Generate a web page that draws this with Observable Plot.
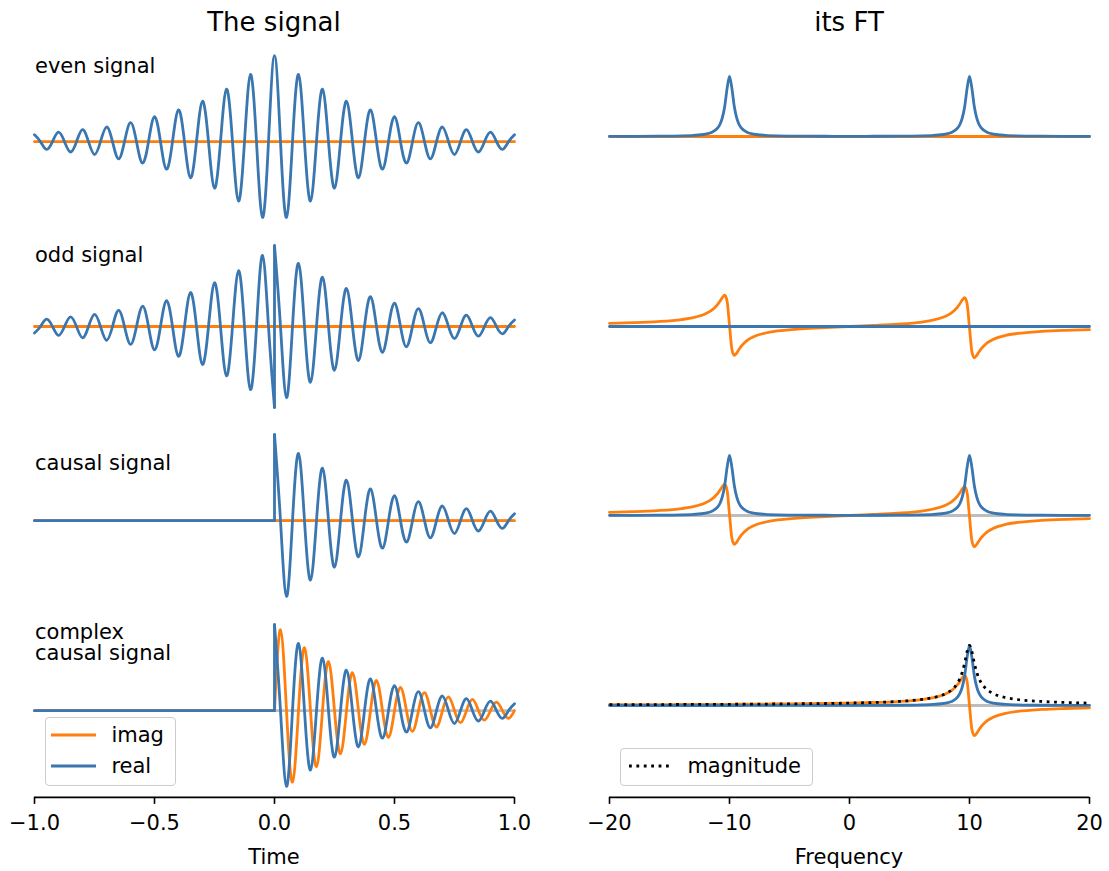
<!DOCTYPE html>
<html>
<head>
<meta charset="utf-8">
<script src="https://cdn.jsdelivr.net/npm/d3@7"></script>
<script src="https://cdn.jsdelivr.net/npm/@observablehq/plot@0.6"></script>
<style>
  html, body { margin: 0; padding: 0; background: #fff; overflow: hidden; }
  #fig { position: relative; width: 1109px; height: 871px; overflow: hidden;
         font-family: "DejaVu Sans", sans-serif; color: #000; background: #fff; }
  .t { position: absolute; white-space: pre; line-height: 1; font-size: 21px; }
  .legend { position: absolute; box-sizing: border-box; border: 1.6px solid #cccccc;
            border-radius: 4px; background: rgba(255,255,255,0.8); }
</style>
</head>
<body>
<div id="fig"></div>
<script>
// ---------------- data ----------------
const timeTicks = [-1, -0.5, 0, 0.5, 1];
const freqTicks = [-20, -10, 0, 10, 20];
const timeSpan = [-1, 1];
const freqSpan = [-20, 20];
const zeroPair = [0, 0];

// time samples (every quarter period of the 10 Hz oscillation)
const tNeg = [-1,-0.975,-0.95,-0.925,-0.9,-0.875,-0.85,-0.825,-0.8,-0.775,-0.75,-0.725,-0.7,-0.675,-0.65,-0.625,-0.6,-0.575,-0.55,-0.525,-0.5,-0.475,-0.45,-0.425,-0.4,-0.375,-0.35,-0.325,-0.3,-0.275,-0.25,-0.225,-0.2,-0.175,-0.15,-0.125,-0.1,-0.075,-0.05,-0.025,0];
const tPos = [0,0.025,0.05,0.075,0.1,0.125,0.15,0.175,0.2,0.225,0.25,0.275,0.3,0.325,0.35,0.375,0.4,0.425,0.45,0.475,0.5,0.525,0.55,0.575,0.6,0.625,0.65,0.675,0.7,0.725,0.75,0.775,0.8,0.825,0.85,0.875,0.9,0.925,0.95,0.975,1];

// even signal (real part); imag part is zero
const evenNeg = [0.08,0,-0.09,0,0.11,0,-0.12,0,0.14,0,-0.15,0,0.17,0,-0.20,0,0.22,0,-0.25,0,0.29,0,-0.32,0,0.37,0,-0.42,0,0.47,0,-0.54,0,0.61,0,-0.69,0,0.78,0,-0.88,0,1.00];
const evenPos = [1.00,0,-0.88,0,0.78,0,-0.69,0,0.61,0,-0.54,0,0.47,0,-0.42,0,0.37,0,-0.32,0,0.29,0,-0.25,0,0.22,0,-0.20,0,0.17,0,-0.15,0,0.14,0,-0.12,0,0.11,0,-0.09,0,0.08];
// odd signal (real part, jumps at t = 0)
const oddNeg = [-0.08,0,0.09,0,-0.11,0,0.12,0,-0.14,0,0.15,0,-0.17,0,0.20,0,-0.22,0,0.25,0,-0.29,0,0.32,0,-0.37,0,0.42,0,-0.47,0,0.54,0,-0.61,0,0.69,0,-0.78,0,0.88,0,-1.00];
const oddPos = [1.00,0,-0.88,0,0.78,0,-0.69,0,0.61,0,-0.54,0,0.47,0,-0.42,0,0.37,0,-0.32,0,0.29,0,-0.25,0,0.22,0,-0.20,0,0.17,0,-0.15,0,0.14,0,-0.12,0,0.11,0,-0.09,0,0.08];
// causal signal: zero before t = 0
const causalOffT = [-1, 0];
const causalOffV = [0, 0];
const causalRealPos = [1.00,0,-0.88,0,0.78,0,-0.69,0,0.61,0,-0.54,0,0.47,0,-0.42,0,0.37,0,-0.32,0,0.29,0,-0.25,0,0.22,0,-0.20,0,0.17,0,-0.15,0,0.14,0,-0.12,0,0.11,0,-0.09,0,0.08];
// complex causal signal
const complexRealPos = causalRealPos;
const complexImagPos = [0,0.94,0,-0.83,0,0.73,0,-0.65,0,0.57,0,-0.50,0,0.44,0,-0.39,0,0.35,0,-0.31,0,0.27,0,-0.24,0,0.21,0,-0.19,0,0.16,0,-0.14,0,0.13,0,-0.11,0,0.10,0,-0.09,0];

// frequency samples
const freq = [-20,-18,-16,-14,-13,-12,-11.5,-11,-10.8,-10.6,-10.4,-10.2,-10,-9.8,-9.6,-9.4,-9.2,-9,-8.5,-8,-7,-6,-4,-2,0,2,4,6,7,8,8.5,9,9.2,9.4,9.6,9.8,10,10.2,10.4,10.6,10.8,11,11.5,12,13,14,16,18,20];
const evenFTReal = [0.002,0.003,0.005,0.010,0.018,0.039,0.067,0.138,0.200,0.308,0.500,0.800,1.000,0.800,0.500,0.308,0.200,0.138,0.067,0.039,0.018,0.010,0.005,0.004,0.003,0.004,0.005,0.010,0.018,0.039,0.067,0.138,0.200,0.308,0.500,0.800,1.000,0.800,0.500,0.308,0.200,0.138,0.067,0.039,0.018,0.010,0.005,0.003,0.002];
const oddFTImag = [0.053,0.064,0.082,0.116,0.148,0.211,0.268,0.364,0.419,0.481,0.520,0.420,0.020,-0.380,-0.480,-0.441,-0.379,-0.324,-0.227,-0.170,-0.108,-0.074,-0.038,-0.017,0,0.017,0.038,0.074,0.108,0.170,0.227,0.324,0.379,0.441,0.480,0.380,-0.020,-0.420,-0.520,-0.481,-0.419,-0.364,-0.268,-0.211,-0.148,-0.116,-0.082,-0.064,-0.053];
const causalFTReal = evenFTReal;
const causalFTImag = oddFTImag;
const complexFTReal = [0,0,0,0,0,0,0,0,0,0,0,0,0,0,0,0,0,0,0.001,0.001,0.001,0.001,0.001,0.001,0.002,0.003,0.004,0.010,0.018,0.039,0.066,0.138,0.200,0.308,0.500,0.800,1.000,0.800,0.500,0.308,0.200,0.138,0.066,0.039,0.018,0.010,0.004,0.003,0.002];
const complexFTImag = [0.013,0.014,0.015,0.017,0.017,0.018,0.019,0.019,0.019,0.019,0.020,0.020,0.020,0.020,0.020,0.021,0.021,0.021,0.022,0.022,0.024,0.025,0.029,0.033,0.040,0.050,0.066,0.099,0.131,0.192,0.249,0.345,0.400,0.462,0.500,0.400,0,-0.400,-0.500,-0.462,-0.400,-0.345,-0.249,-0.192,-0.131,-0.099,-0.066,-0.050,-0.040];
const complexFTMag = [0.013,0.014,0.015,0.017,0.017,0.018,0.019,0.019,0.019,0.019,0.020,0.020,0.020,0.020,0.020,0.021,0.021,0.021,0.022,0.022,0.024,0.025,0.029,0.033,0.040,0.050,0.067,0.100,0.132,0.196,0.258,0.371,0.447,0.555,0.707,0.894,1.000,0.894,0.707,0.555,0.447,0.371,0.258,0.196,0.132,0.100,0.067,0.050,0.040];

const rowLabels = ["even signal", "odd signal", "causal signal", "complex\ncausal signal"];
const titles = ["The signal", "its FT"];
const axisLabels = ["Time", "Frequency"];
const legendLeft = ["imag", "real"];
const legendRight = ["magnitude"];

// ---------------- styling / layout ----------------
const C_REAL = "#3a76af", C_IMAG = "#ff7f0e", C_ZERO = "#bdbdbd", LW = 2.8;
const COL_X0 = [34, 609], PANEL_W = 480, PANEL_H = 178;
const ROW_TOPS = [47, 236.7, 426.4, 616.1];
const AXIS_Y = 797;
const Y_TIME = [-0.974, 1.094], Y_TIME_ODD = [-1.1, 1.1], Y_FREQ = [-1.48, 1.48];
const FONT = "'DejaVu Sans', sans-serif";
const FS = 21;

const fig = document.getElementById("fig");
const pts = (xs, ys) => xs.map((x, i) => ({x, y: ys[i]}));
const joinHalves = (tn, vn, tp, vp) => pts(tn, vn).concat(pts(tp, vp).slice(1));

function panel(col, row, yDomain, marks) {
  const bottom = row === 3;
  const ML = 34, MR = 20, MT = 12;
  const MB = bottom ? 70 : 12;
  const plotH = bottom ? (AXIS_Y - ROW_TOPS[3]) : PANEL_H;
  const inset = plotH - PANEL_H;
  const xDomain = col === 0 ? timeSpan : freqSpan;
  const all = [...marks];
  if (bottom) {
    all.push(Plot.ruleY([yDomain[0]], {stroke: "#000", strokeWidth: 1.6, dy: inset}));
    all.push(Plot.axisX({
      ticks: col === 0 ? timeTicks : freqTicks,
      tickFormat: col === 0 ? d3.format(".1f") : d3.format("d"),
      tickSize: 7, tickPadding: 11, fontSize: FS, label: null,
      stroke: "#000", strokeWidth: 1.6
    }));
  }
  const svg = Plot.plot({
    width: PANEL_W + ML + MR, height: plotH + MT + MB,
    marginLeft: ML, marginRight: MR, marginTop: MT, marginBottom: MB,
    insetBottom: inset,
    x: bottom ? {domain: xDomain} : {domain: xDomain, axis: null},
    y: {domain: yDomain, axis: null},
    style: `font-family: ${FONT}; font-size: ${FS}px; background: transparent; overflow: visible; color: #000;`,
    marks: all
  });
  svg.style.position = "absolute";
  svg.style.left = (COL_X0[col] - ML) + "px";
  svg.style.top = (ROW_TOPS[row] - MT) + "px";
  svg.style.maxWidth = "none";
  fig.appendChild(svg);
}

const L = (data, stroke, extra = {}) => Plot.line(data, {x: "x", y: "y", stroke, strokeWidth: LW, ...extra});
const zeroRule = () => Plot.ruleY([0], {stroke: C_ZERO, strokeWidth: LW});

// ---- left column: signals ----
panel(0, 0, Y_TIME, [
  L(pts(timeSpan, zeroPair), C_IMAG),
  L(joinHalves(tNeg, evenNeg, tPos, evenPos), C_REAL, {curve: "natural"})
]);
panel(0, 1, Y_TIME_ODD, [
  L(pts(timeSpan, zeroPair), C_IMAG),
  L(pts(tNeg, oddNeg), C_REAL, {curve: "natural"}),
  L(pts([0, 0], [oddNeg[oddNeg.length - 1], oddPos[0]]), C_REAL),
  L(pts(tPos, oddPos), C_REAL, {curve: "natural"})
]);
panel(0, 2, Y_TIME, [
  zeroRule(),
  L(pts(timeSpan, zeroPair), C_IMAG),
  L(pts([...causalOffT, 0], [...causalOffV, causalRealPos[0]]), C_REAL),
  L(pts(tPos, causalRealPos), C_REAL, {curve: "natural"})
]);
panel(0, 3, Y_TIME, [
  zeroRule(),
  L(pts(causalOffT, causalOffV), C_IMAG),
  L(pts(tPos, complexImagPos), C_IMAG, {curve: "natural"}),
  L(pts([...causalOffT, 0], [...causalOffV, complexRealPos[0]]), C_REAL),
  L(pts(tPos, complexRealPos), C_REAL, {curve: "natural"})
]);

// ---- right column: Fourier transforms ----
panel(1, 0, Y_FREQ, [
  L(pts(freqSpan, zeroPair), C_IMAG),
  L(pts(freq, evenFTReal), C_REAL, {curve: "monotone-x"})
]);
panel(1, 1, Y_FREQ, [
  L(pts(freq, oddFTImag), C_IMAG, {curve: "monotone-x"}),
  L(pts(freqSpan, zeroPair), C_REAL)
]);
panel(1, 2, Y_FREQ, [
  zeroRule(),
  L(pts(freq, causalFTImag), C_IMAG, {curve: "monotone-x"}),
  L(pts(freq, causalFTReal), C_REAL, {curve: "monotone-x"})
]);
panel(1, 3, Y_FREQ, [
  zeroRule(),
  L(pts(freq, complexFTImag), C_IMAG, {curve: "monotone-x"}),
  L(pts(freq, complexFTReal), C_REAL, {curve: "monotone-x"}),
  L(pts(freq, complexFTMag), "#000", {curve: "monotone-x", strokeDasharray: "2.8,4.6", strokeLinecap: "butt", strokeLinejoin: "miter"})
]);

// ---------------- texts ----------------
function text(str, {left, top, size = FS, center = false}) {
  const d = document.createElement("div");
  d.className = "t";
  d.textContent = str;
  d.style.left = left + "px";
  d.style.top = top + "px";
  d.style.fontSize = size + "px";
  if (center) d.style.transform = "translateX(-50%)";
  fig.appendChild(d);
  return d;
}
text(titles[0], {left: 274, top: 9, size: 26, center: true});
text(titles[1], {left: 849, top: 9, size: 26, center: true});
text(axisLabels[0], {left: 274, top: 847, center: true});
text(axisLabels[1], {left: 849, top: 847, center: true});
const labelTops = [56, 245, 453, 622];
rowLabels.forEach((s, i) => {
  const d = text(s, {left: 35, top: labelTops[i]});
  d.style.lineHeight = "21px";
});

// ---------------- legends ----------------
function legend({left, top, width, height, items}) {
  const box = document.createElement("div");
  box.className = "legend";
  Object.assign(box.style, {left: left + "px", top: top + "px", width: width + "px", height: height + "px"});
  const ns = "http://www.w3.org/2000/svg";
  const s = document.createElementNS(ns, "svg");
  s.setAttribute("width", width); s.setAttribute("height", height);
  s.style.position = "absolute"; s.style.left = "-1.6px"; s.style.top = "-1.6px";
  items.forEach(it => {
    const ln = document.createElementNS(ns, "line");
    ln.setAttribute("x1", it.x1); ln.setAttribute("x2", it.x2);
    ln.setAttribute("y1", it.y); ln.setAttribute("y2", it.y);
    ln.setAttribute("stroke", it.color); ln.setAttribute("stroke-width", LW);
    if (it.dash) ln.setAttribute("stroke-dasharray", it.dash);
    s.appendChild(ln);
    const t = document.createElement("div");
    t.className = "t";
    t.textContent = it.label;
    t.style.left = (it.tx - 1.6) + "px";
    t.style.top = (it.ty - 1.6) + "px";
    box.appendChild(t);
  });
  box.appendChild(s);
  fig.appendChild(box);
}
legend({left: 45, top: 717, width: 131, height: 69, items: [
  {label: legendLeft[0], color: C_IMAG, x1: 7, x2: 52, y: 19, tx: 67, ty: 9},
  {label: legendLeft[1], color: C_REAL, x1: 7, x2: 52, y: 50, tx: 67, ty: 40}
]});
legend({left: 620, top: 748, width: 193, height: 38, items: [
  {label: legendRight[0], color: "#000", dash: "2.8,4.6", x1: 10, x2: 53, y: 19, tx: 68, ty: 8.5}
]});
</script>
</body>
</html>
